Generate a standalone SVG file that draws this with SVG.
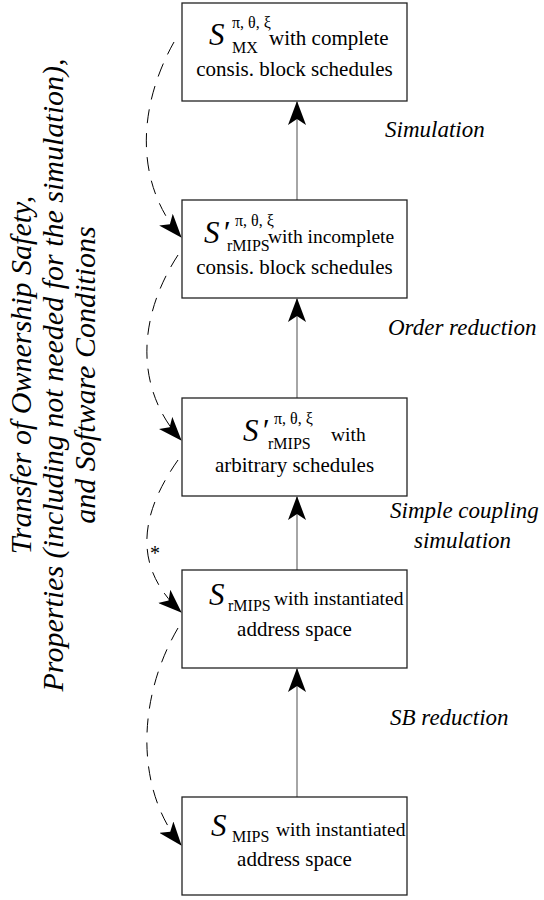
<svg xmlns="http://www.w3.org/2000/svg" width="544" height="900" viewBox="0 0 544 900" font-family="'Liberation Serif', 'DejaVu Serif', serif">
  <defs>
    <marker id="head" viewBox="0 0 24 18" refX="23" refY="9" markerWidth="24" markerHeight="18" markerUnits="userSpaceOnUse" orient="auto">
      <path d="M0,0 L24,9 L0,18 L6,9 Z" fill="#000"/>
    </marker>
    <style>
      text { font-family: 'Liberation Serif', 'DejaVu Serif', serif; fill: #000; }
      .box { fill: #fff; stroke: #222; stroke-width: 1.3; }
      .t { font-size: 21px; }
      .w { font-size: 19.5px; }
      .s { font-size: 31px; font-style: italic; }
      .sup { font-size: 16px; }
      .sub { font-size: 16px; }
      .lbl { font-size: 23px; font-style: italic; }
      .side { font-size: 30px; font-style: italic; text-anchor: middle; }
      .flow { stroke: #808080; stroke-width: 1.4; fill: none; marker-end: url(#head); }
      .dash { stroke: #000; stroke-width: 1; fill: none; stroke-dasharray: 14 10; marker-end: url(#head); }
    </style>
  </defs>

  <!-- side caption -->
  <g id="caption">
    <text class="side" transform="translate(31,375) rotate(-90)">Transfer of Ownership Safety,</text>
    <text class="side" transform="translate(63,375) rotate(-90)">Properties (including not needed for the simulation),</text>
    <text class="side" transform="translate(95,375) rotate(-90)">and Software Conditions</text>
  </g>

  <!-- connectors -->
  <g id="connectors">
    <line class="flow" x1="297" y1="200" x2="297" y2="102"/>
    <line class="flow" x1="297" y1="398" x2="297" y2="299"/>
    <line class="flow" x1="297" y1="570" x2="297" y2="497"/>
    <line class="flow" x1="297" y1="797" x2="297" y2="669"/>
    <path class="dash" d="M174,42 C136,110 136,185 181,237"/>
    <path class="dash" d="M178,255 C136,320 136,390 181,440"/>
    <path class="dash" d="M178,460 C136,520 136,570 181,612"/>
    <path class="dash" d="M178,628 C136,700 136,790 181,845"/>
    <text x="150" y="560" font-size="20">*</text>
    <text class="lbl" x="385" y="137">Simulation</text>
    <text class="lbl" x="388" y="335">Order reduction</text>
    <text class="lbl" x="390" y="518">Simple coupling</text>
    <text class="lbl" x="414" y="548">simulation</text>
    <text class="lbl" x="390" y="725">SB reduction</text>
  </g>

  <g id="node-mx">
    <rect class="box" x="182" y="3" width="225" height="98"/>
    <text class="s" x="209" y="45">S</text>
    <text class="sup" x="232" y="28">π, θ, ξ</text>
    <text class="sub" x="232" y="53">MX</text>
    <text class="t" x="269" y="45">with complete</text>
    <text class="t" x="294.5" y="76" text-anchor="middle">consis. block schedules</text>
  </g>

  <g id="node-rmips-incomplete">
    <rect class="box" x="182" y="200" width="225" height="98"/>
    <text class="s" x="204" y="243">S</text>
    <text class="s" x="222" y="243">′</text>
    <text class="sup" x="235" y="226">π, θ, ξ</text>
    <text class="sub" x="227" y="251" font-size="15">rMIPS</text>
    <text class="w" x="268" y="243" font-size="20">with incomplete</text>
    <text class="t" x="294.5" y="274" text-anchor="middle">consis. block schedules</text>
  </g>

  <g id="node-rmips-arbitrary">
    <rect class="box" x="182" y="398" width="225" height="98"/>
    <text class="s" x="243" y="441">S</text>
    <text class="s" x="261" y="441">′</text>
    <text class="sup" x="274" y="424">π, θ, ξ</text>
    <text class="sub" x="268" y="449">rMIPS</text>
    <text class="w" x="331" y="441">with</text>
    <text class="t" x="294.5" y="472" text-anchor="middle">arbitrary schedules</text>
  </g>

  <g id="node-rmips">
    <rect class="box" x="182" y="570" width="225" height="98"/>
    <text class="s" x="209" y="605">S</text>
    <text class="sub" x="228" y="611" font-size="15">rMIPS</text>
    <text class="w" x="274" y="605">with instantiated</text>
    <text class="t" x="294.5" y="636" text-anchor="middle">address space</text>
  </g>

  <g id="node-mips">
    <rect class="box" x="182" y="797" width="225" height="98"/>
    <text class="s" x="211" y="836">S</text>
    <text class="sub" x="232" y="842" font-size="15">MIPS</text>
    <text class="w" x="276" y="836">with instantiated</text>
    <text class="t" x="294.5" y="866" text-anchor="middle">address space</text>
  </g>
</svg>
